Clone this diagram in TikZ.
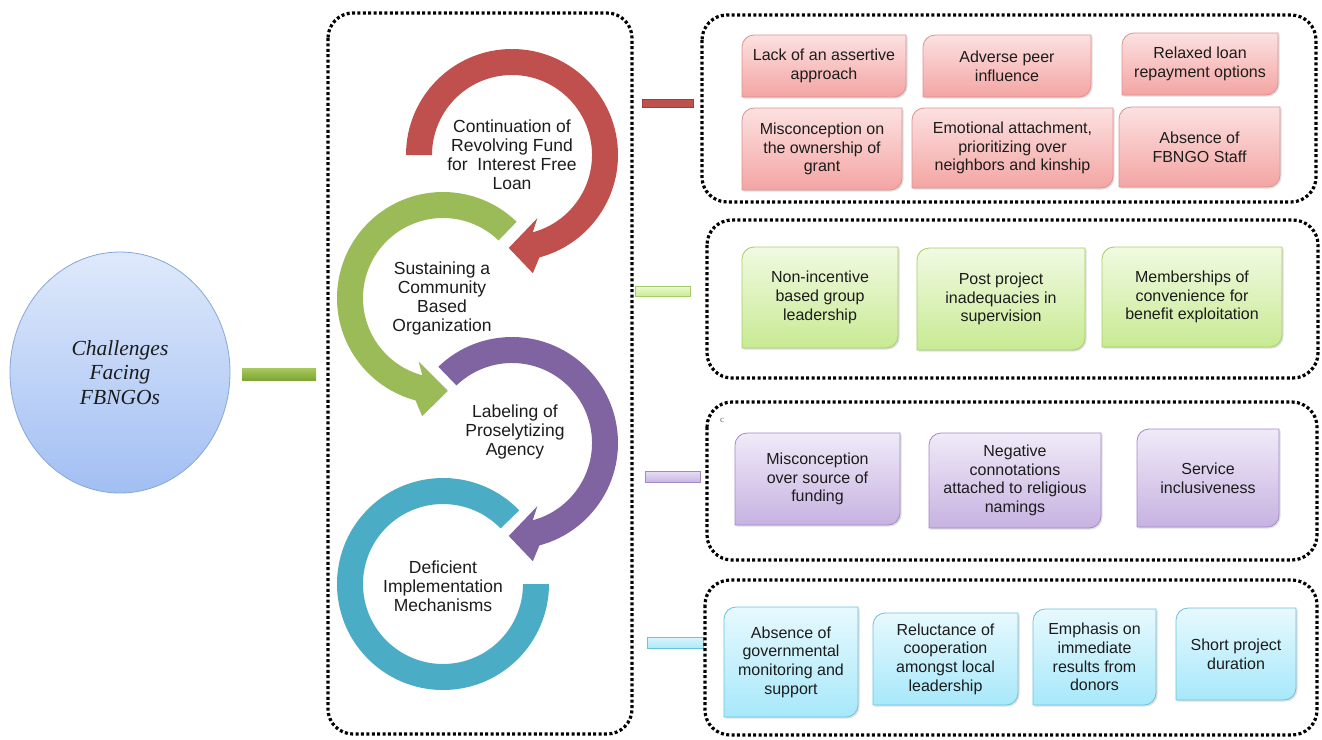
\documentclass[tikz,border=0pt]{standalone}
\usepackage{fontspec}
\setmainfont{Liberation Serif}
\setsansfont{Liberation Sans}
\usetikzlibrary{shapes.geometric,shadows}
\definecolor{cred}{HTML}{C0504D}
\definecolor{cgreen}{HTML}{9BBB59}
\definecolor{cpurple}{HTML}{8064A2}
\definecolor{cteal}{HTML}{4BACC6}
\definecolor{txt}{HTML}{1C1C1C}
\definecolor{pkT}{HTML}{FCE1E1}\definecolor{pkB}{HTML}{F3A5A3}\definecolor{pkL}{HTML}{DE9290}
\definecolor{gnT}{HTML}{F1FAE2}\definecolor{gnB}{HTML}{C8EA93}\definecolor{gnL}{HTML}{A6CC68}
\definecolor{puT}{HTML}{F0EAF8}\definecolor{puB}{HTML}{C7B2E1}\definecolor{puL}{HTML}{A38AC6}
\definecolor{cyT}{HTML}{E7F9FE}\definecolor{cyB}{HTML}{A7E8FA}\definecolor{cyL}{HTML}{6BC2DD}
\definecolor{elT}{HTML}{DEE9FB}\definecolor{elB}{HTML}{A2BFF3}\definecolor{elL}{HTML}{86A7D9}
\definecolor{blT}{HTML}{A8C95E}\definecolor{blB}{HTML}{7EA634}
\definecolor{bgT}{HTML}{ECF9D4}\definecolor{bgB}{HTML}{C8EC94}
\definecolor{bpT}{HTML}{E8DEF5}\definecolor{bpB}{HTML}{C8B6E4}
\definecolor{bcT}{HTML}{DAF6FD}\definecolor{bcB}{HTML}{AFE8F8}
\tikzset{
  x=1pt,y=1pt,
  dotbox/.style={draw=black,line width=3.2pt,dash pattern=on 3pt off 2.4pt,rounded corners=25pt},
  shd/.style={drop shadow={shadow xshift=1.5pt,shadow yshift=-1.5pt,opacity=0.25}},
  pinkbox/.style={shd,top color=pkT,bottom color=pkB,draw=pkL,line width=0.8pt},
  greenbox/.style={shd,top color=gnT,bottom color=gnB,draw=gnL,line width=0.8pt},
  purplebox/.style={shd,top color=puT,bottom color=puB,draw=puL,line width=0.8pt},
  cyanbox/.style={shd,top color=cyT,bottom color=cyB,draw=cyL,line width=0.8pt},
  boxtext/.style={font=\sffamily\fontsize{16}{18.7}\selectfont,align=center,text=txt,inner sep=0pt},
  ringtext/.style={font=\sffamily\fontsize{17.5}{19}\selectfont,align=center,text=txt,inner sep=0pt},
  bar/.style={rectangle,inner sep=0pt,line width=0.7pt},
}
\newcommand\dbox[7]{%
  \path[#6] (#2,-#5) -- (#2,-#3-12) arc[start angle=180,end angle=90,radius=12]
    -- (#4,-#3) -- (#4,-#5+12) arc[start angle=0,end angle=-90,radius=12] -- cycle;
  \node[boxtext] (#1) at ({(#2+#4)/2},{-(#3+#5)/2}) {#7};
}
\begin{document}
\begin{tikzpicture}
\useasboundingbox (0,0) rectangle (1322,-739);
\fill[white] (0,0) rectangle (1322,-739);

% core ellipse
\node[ellipse,minimum width=220,minimum height=241,top color=elT,bottom color=elB,draw=elL,line width=0.8pt,
      font=\itshape\fontsize{21.5}{24.5}\selectfont,align=center,text=txt,inner sep=0pt] (core) at (120,-372.5)
      {Challenges\\Facing\\FBNGOs};
\node[bar,minimum width=74,minimum height=12,top color=blT,bottom color=blB] (barL) at (279,-374) {};

% big dotted box
\draw[dotbox] (328,-13) rectangle (632,-734);

% rings
\fill[cred,shift={(512,-155)}] (180:106) arc[start angle=180,end angle=-75,radius=106]
  -- (-80:120) -- (-92:93) -- (-68:68) -- (-75:80) arc[start angle=-75,end angle=180,radius=80] -- cycle;
\fill[cgreen,shift={(443,-298)}] (46:106) arc[start angle=46,end angle=255,radius=106]
  -- (260:120) -- (273:93) -- (249:68) -- (255:80) arc[start angle=255,end angle=46,radius=80] -- cycle;
\fill[cpurple,shift={(512,-443)}] (134:106) arc[start angle=134,end angle=-75,radius=106]
  -- (-80:120) -- (-92:93) -- (-68:68) -- (-75:80) arc[start angle=-75,end angle=134,radius=80] -- cycle;
\fill[cteal,shift={(443,-584)}] (44:106) arc[start angle=44,end angle=360,radius=106]
  -- (0:80) arc[start angle=360,end angle=44,radius=80] -- cycle;

\node[ringtext] (r1) at (512,-155) {Continuation of\\Revolving Fund\\for\ \ Interest Free\\Loan};
\node[ringtext] (r2) at (442,-298.5) {Sustaining a\\Community\\Based\\Organization};
\node[ringtext] (r3) at (515,-432) {Labeling of\\Proselytizing\\Agency};
\node[ringtext] (r4) at (443,-586) {Deficient\\Implementation\\Mechanisms};

% connector bars
\node[bar,minimum width=51,minimum height=8,fill=cred,draw=cred!80!black] (barR) at (667.5,-103) {};
\node[bar,minimum width=55,minimum height=10,top color=bgT,bottom color=bgB,draw=gnL] (barG) at (662.5,-291) {};
\node[bar,minimum width=55,minimum height=11,top color=bpT,bottom color=bpB,draw=puL] (barP) at (672.5,-476.5) {};
\node[bar,minimum width=56,minimum height=11,top color=bcT,bottom color=bcB,draw=cyL] (barC) at (675,-642.5) {};

% right dotted boxes
\draw[dotbox] (702,-15) rectangle (1316,-202);
\draw[dotbox] (707,-220) rectangle (1318,-378);
\draw[dotbox] (707,-402) rectangle (1317,-560);
\draw[dotbox] (705,-580) rectangle (1317,-735);

% red group
\dbox{a1}{742}{35}{906}{97}{pinkbox}{Lack of an assertive\\approach}
\dbox{a2}{923}{35}{1091}{97}{pinkbox}{Adverse peer\\influence}
\dbox{a3}{1122}{33}{1278}{95}{pinkbox}{Relaxed loan\\repayment options}
\dbox{a4}{742}{108}{902}{190}{pinkbox}{Misconception on\\the ownership of\\grant}
\dbox{a5}{912}{108}{1113}{188}{pinkbox}{Emotional attachment,\\prioritizing over\\neighbors and kinship}
\dbox{a6}{1119}{107}{1280}{187}{pinkbox}{Absence of\\FBNGO Staff}

% green group
\dbox{b1}{742}{247}{898}{348}{greenbox}{Non-incentive\\based group\\leadership}
\dbox{b2}{917}{248}{1085}{350}{greenbox}{Post project\\inadequacies in\\supervision}
\dbox{b3}{1102}{247}{1282}{347}{greenbox}{Memberships of\\convenience for\\benefit exploitation}

% purple group
\node[font=\fontsize{9}{10}\selectfont,text=black!60,inner sep=0pt] (cmark) at (722,-420) {c};
\dbox{c1}{735}{433}{900}{525}{purplebox}{Misconception\\over source of\\funding}
\dbox{c2}{929}{433}{1101}{528}{purplebox}{Negative\\connotations\\attached to religious\\namings}
\dbox{c3}{1137}{429}{1279}{527}{purplebox}{Service\\inclusiveness}

% cyan group
\dbox{d1}{724}{607}{858}{717}{cyanbox}{Absence of\\governmental\\monitoring and\\support}
\dbox{d2}{873}{613}{1018}{705}{cyanbox}{Reluctance of\\cooperation\\amongst local\\leadership}
\dbox{d3}{1033}{609}{1156}{705}{cyanbox}{Emphasis on\\immediate\\results from\\donors}
\dbox{d4}{1176}{608}{1296}{700}{cyanbox}{Short project\\duration}
\end{tikzpicture}
\end{document}
